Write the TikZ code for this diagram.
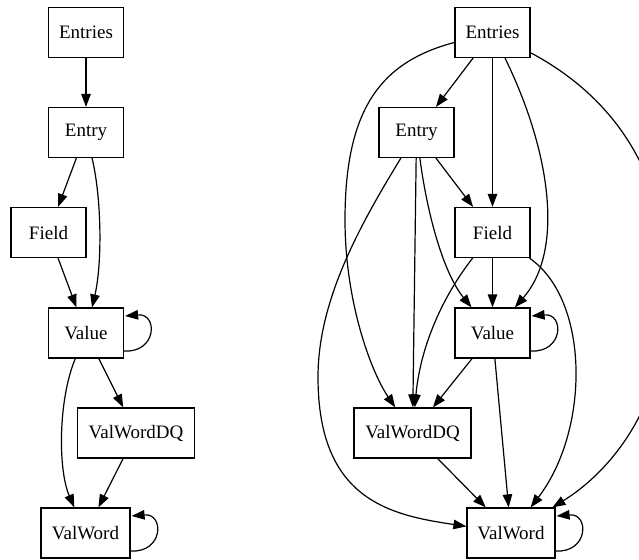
\documentclass[tikz,border=0pt]{standalone}
\usepackage{fontspec}
\setmainfont{Liberation Serif}
\usetikzlibrary{arrows.meta,calc}
\begin{document}
\begin{tikzpicture}[x=1pt,y=-1pt,
  box/.style={draw,line width=1.2pt,minimum width=75pt,minimum height=50pt,inner sep=0pt,font=\fontsize{19}{22}\selectfont},
  edge/.style={line width=1.2pt,-{Triangle[length=13pt,width=9.5pt]}}]
\fill[white] (0,0) rectangle (639,559);
\useasboundingbox (0,0) rectangle (639,559);
% left graph
\node[box] (le1) at (86,32.5) {Entries};
\node[box] (le2) at (86,132.5) {Entry};
\node[box] (lf) at (48.5,232.5) {Field};
\node[box] (lv) at (86,333) {Value};
\node[box,minimum width=117pt] (ldq) at (136,433) {ValWordDQ};
\node[box,minimum width=89pt] (lw) at (85.5,533) {ValWord};
\draw[edge] (le1) -- (le2);
\draw[edge] (le2) -- (lf);
\draw[edge] (le2) .. controls (102,200) and (102,265) .. (lv);
\draw[edge] (lf) -- (lv);
\draw[edge] ($(lv.east)+(0,18)$) .. controls +(33,2) and +(33,-3) .. ($(lv.east)+(1,-17)$);
\draw[edge] (lv) .. controls (58,400) and (58,470) .. (lw);
\draw[edge] (lv) -- (ldq);
\draw[edge] (ldq) -- (lw);
\draw[edge] ($(lw.east)+(0,18)$) .. controls +(33,2) and +(33,-3) .. ($(lw.east)+(1,-17)$);
% right graph
\node[box] (re1) at (492.5,32.5) {Entries};
\node[box] (re2) at (416.5,132.5) {Entry};
\node[box] (rf) at (492.5,232.5) {Field};
\node[box] (rv) at (492.5,333) {Value};
\node[box,minimum width=117pt] (rdq) at (412.5,433) {ValWordDQ};
\node[box,minimum width=88pt] (rw) at (511,533) {ValWord};
\draw[edge] (re1) -- (re2);
\draw[edge] (re1) -- (rf);
\draw[edge] (re1) .. controls (550,150) and (565,250) .. (rv);
\draw[edge] (re1) .. controls (380,62) and (345,110) .. (345,220) .. controls (345,300) and (370,370) .. (rdq);
\draw[edge] (re1) .. controls (610,95) and (668,170) .. (668,290) .. controls (668,410) and (605,475) .. (rw);
\draw[edge] (re2) -- (rdq);
\draw[edge] (re2) .. controls (428,220) and (445,275) .. (rv);
\draw[edge] (re2) -- (rf);
\draw[edge] (re2) .. controls (360,225) and (318,300) .. (318,377) .. controls (318,500) and (390,515) .. (rw);
\draw[edge] (rf) .. controls (440,300) and (420,350) .. (rdq);
\draw[edge] (rf) -- (rv);
\draw[edge] (rf) .. controls (590,300) and (590,430) .. (rw);
\draw[edge] ($(rv.east)+(0,18)$) .. controls +(33,2) and +(33,-3) .. ($(rv.east)+(1,-17)$);
\draw[edge] (rv) -- (rdq);
\draw[edge] (rv) -- (rw);
\draw[edge] (rdq) -- (rw);
\draw[edge] ($(rw.east)+(0,18)$) .. controls +(33,2) and +(33,-3) .. ($(rw.east)+(1,-17)$);
\end{tikzpicture}
\end{document}
